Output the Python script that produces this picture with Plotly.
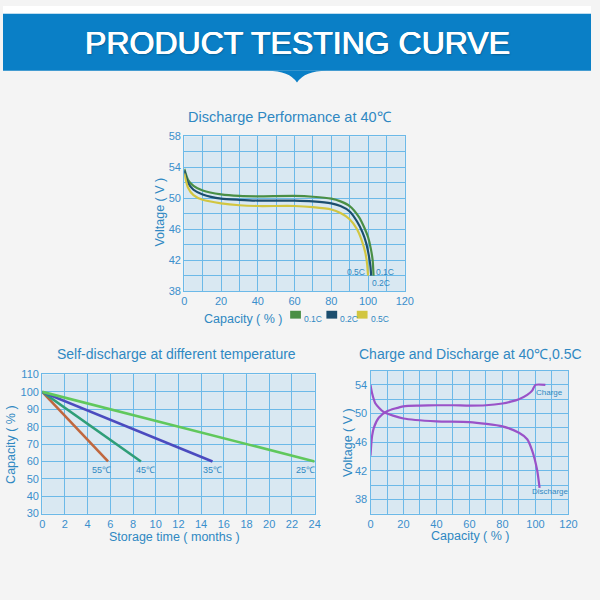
import plotly.graph_objects as go

# ---------------- data ----------------
# Discharge performance at 40C
d01_x = [0, 2, 5, 10, 20, 30, 40, 60, 70, 80, 85, 90, 95, 98, 100, 101.5, 102.5, 103]
d01_y = [53.8, 52.4, 51.6, 51.0, 50.5, 50.3, 50.25, 50.3, 50.2, 49.95, 49.6, 49.0, 47.6, 46.2, 45.0, 43.5, 42.0, 40.0]
d02_x = [0, 2, 5, 10, 20, 30, 40, 60, 70, 80, 85, 90, 94, 97, 99, 100.5, 101.3, 101.7]
d02_y = [53.6, 52.0, 51.1, 50.5, 49.95, 49.8, 49.7, 49.7, 49.6, 49.35, 49.0, 48.3, 47.0, 45.6, 44.2, 42.5, 41.2, 40.0]
d05_x = [0, 2, 5, 10, 20, 30, 40, 60, 70, 80, 85, 90, 94, 96.5, 98.5, 99.5, 100]
d05_y = [53.2, 51.4, 50.4, 49.8, 49.35, 49.1, 49.0, 49.0, 48.85, 48.55, 48.1, 47.3, 46.0, 44.6, 43.0, 41.5, 40.0]
rate_names = ["0.1C", "0.2C", "0.5C"]

# Self-discharge at different temperature
temps = ["55℃", "45℃", "35℃", "25℃"]
sd_months = [[0, 5.8], [0, 8.7], [0, 15], [0, 24]]
sd_capacity = [[100, 60], [100, 60], [100, 60], [100, 60]]
sd_label_x = [5.2, 9.1, 15.0, 23.2]
sd_label_y = [55, 55, 55, 55]

# Charge and discharge at 40C, 0.5C
ch_x = [0, 0.5, 1, 2, 5, 10, 20, 30, 40, 50, 60, 70, 80, 85, 90, 95, 98, 100, 106]
ch_y = [44.1, 45.8, 46.9, 48.0, 49.4, 50.3, 51.0, 51.1, 51.15, 51.15, 51.1, 51.15, 51.4, 51.65, 52.0, 52.6, 53.2, 54.0, 54.0]
dis_x = [0, 1, 3, 8, 20, 40, 60, 80, 90, 95, 98, 101, 102.5]
dis_y = [54.0, 52.8, 51.4, 50.2, 49.3, 48.9, 48.8, 48.2, 47.3, 46.4, 44.8, 42.1, 39.6]

# ---------------- style ----------------
FONT = "Liberation Sans, Arial, sans-serif"
BLUE_TXT = "#2f88c2"
TICK_TXT = "#3a8fcc"
GRID = "#6cb9e8"
PLOT_BG = "#d9e8f2"
rate_colors = ["#4a8f45", "#1c4e6e", "#d2c640"]
temp_colors = ["#c0673e", "#2f9e78", "#4b4bbf", "#60c85c"]
PURPLE = "#9a52c8"

fig = go.Figure()

for xs, ys, c in zip([d01_x, d02_x, d05_x], [d01_y, d02_y, d05_y], rate_colors):
    fig.add_trace(go.Scatter(x=xs, y=ys, mode="lines", line=dict(color=c, width=2.2, shape="spline", smoothing=0.6),
                             xaxis="x", yaxis="y", showlegend=False, hoverinfo="skip"))

for xs, ys, c in zip(sd_months, sd_capacity, temp_colors):
    fig.add_trace(go.Scatter(x=xs, y=ys, mode="lines", line=dict(color=c, width=2.6),
                             xaxis="x2", yaxis="y2", showlegend=False, hoverinfo="skip"))

fig.add_trace(go.Scatter(x=ch_x, y=ch_y, mode="lines", line=dict(color=PURPLE, width=2.2, shape="spline", smoothing=0.6),
                         xaxis="x3", yaxis="y3", showlegend=False, hoverinfo="skip"))
fig.add_trace(go.Scatter(x=dis_x, y=dis_y, mode="lines", line=dict(color=PURPLE, width=2.2, shape="spline", smoothing=0.6),
                         xaxis="x3", yaxis="y3", showlegend=False, hoverinfo="skip"))


def ax(domain, rng, dtick=None, tickvals=None, minor=None, anchor=None):
    d = dict(domain=domain, range=rng, showgrid=True, gridcolor=GRID, gridwidth=1,
             showline=True, mirror=True, linecolor=GRID, linewidth=1.2, zeroline=False,
             ticks="", tickfont=dict(family=FONT, size=11, color=TICK_TXT), anchor=anchor,
             fixedrange=True)
    if dtick is not None:
        d["dtick"] = dtick
        d["tick0"] = rng[0]
    if tickvals is not None:
        d["tickmode"] = "array"
        d["tickvals"] = tickvals
    if minor is not None:
        d["minor"] = dict(showgrid=True, gridcolor=GRID, gridwidth=1, tick0=minor[0], dtick=minor[1])
    return d


W = 600.0
fig.update_layout(
    width=600, height=600, margin=dict(l=0, r=0, t=0, b=0),
    paper_bgcolor="#f4f4f4", plot_bgcolor=PLOT_BG,
    font=dict(family=FONT),
    xaxis=ax([185 / W, 410 / W], [0, 120], dtick=20, minor=(0, 10), anchor="y"),
    yaxis=ax([1 - 291 / W, 1 - 133 / W], [38, 58], dtick=4, minor=(38, 2), anchor="x"),
    xaxis2=ax([40 / W, 318 / W], [0, 24], dtick=2, anchor="y2"),
    yaxis2=ax([1 - 518 / W, 1 - 376 / W], [30, 110], dtick=10, anchor="x2"),
    xaxis3=ax([375 / W, 577 / W], [0, 120], dtick=20, minor=(0, 10), anchor="y3"),
    yaxis3=ax([1 - 518 / W, 1 - 372 / W], [36, 56], tickvals=[38, 42, 46, 50, 54], minor=(36, 2), anchor="x3"),
)

shapes = [
    dict(type="rect", xref="paper", yref="paper", x0=0, x1=1, y0=1 - 8 / W, y1=1, fillcolor="white", line_width=0, layer="below"),
    dict(type="rect", xref="paper", yref="paper", x0=0, x1=1, y0=1 - 66 / W, y1=1 - 8 / W, fillcolor="#0a7fc6", line_width=0),
    dict(type="path", xref="paper", yref="paper",
         path=f"M {270/W} {1-66/W} Q {292/W} {1-66/W} {300/W} {1-78/W} Q {308/W} {1-66/W} {330/W} {1-66/W} Z",
         fillcolor="#0a7fc6", line_width=0),
]

# legend swatches for the top chart
leg_x = [293, 330, 361]
for lx, c in zip(leg_x, rate_colors):
    shapes.append(dict(type="rect", xref="paper", yref="paper", x0=lx / W, x1=(lx + 11) / W,
                       y0=1 - 319 / W, y1=1 - 311 / W, fillcolor=c, line_width=0))
fig.update_layout(shapes=shapes)

ann = []


def txt(x, y, s, size, color=BLUE_TXT, xanchor="center", angle=0, xref="paper", yref="paper", shadow=None):
    if xref == "paper":
        x = x / W
    if yref == "paper":
        y = 1 - y / W
    f = dict(family=FONT, size=size, color=color)
    if shadow:
        f["shadow"] = shadow
    ann.append(dict(x=x, y=y, xref=xref, yref=yref, text=s, showarrow=False, xanchor=xanchor, yanchor="middle",
                    textangle=angle, font=f))


txt(300, 38, "PRODUCT TESTING CURVE", 32, color="white",
    shadow="0.6px 0px 0px #ffffff, -0.4px 0px 0px #ffffff, 1px 1px 2px rgba(0,0,0,0.25)")
txt(293, 113, "Discharge Performance at 40℃", 14.5)
txt(177, 355, "Self-discharge at different temperature", 14)
txt(477, 355, "Charge and Discharge at 40℃,0.5C", 14)

txt(160, 210, "Voltage ( V )", 12.5, angle=-90)
txt(245, 319, "Capacity ( % )", 12.5)
txt(8, 447, "Capacity ( % )", 12.5, angle=-90)
txt(175, 542, "Storage time ( months )", 12.5)
txt(352, 445, "Voltage ( V )", 12.5, angle=-90)
txt(477, 541, "Capacity ( % )", 12.5)

for lx, name in zip(leg_x, rate_names):
    txt(lx + 12, 319, name, 8.5, xanchor="left")

# curve end labels on the top chart
txt(99.3, 40.5, "0.5C", 8.5, xanchor="right", xref="x", yref="y")
txt(103.3, 40.5, "0.1C", 8.5, xanchor="left", xref="x", yref="y")
txt(101.2, 39.1, "0.2C", 8.5, xanchor="left", xref="x", yref="y")

for lx, ly, name in zip(sd_label_x, sd_label_y, temps):
    txt(lx, ly, name, 9, xref="x2", yref="y2")

txt(108.5, 53.0, "Charge", 8, xref="x3", yref="y3")
txt(109, 39.1, "Discharge", 8, xref="x3", yref="y3")

fig.update_layout(annotations=ann)

css_js = ("document.documentElement.style.margin='0';document.documentElement.style.overflow='hidden';"
          "document.body.style.margin='0';document.body.style.padding='0';document.body.style.overflow='hidden';")
fig.write_html("out.html", config={"displayModeBar": False}, post_script=css_js)
